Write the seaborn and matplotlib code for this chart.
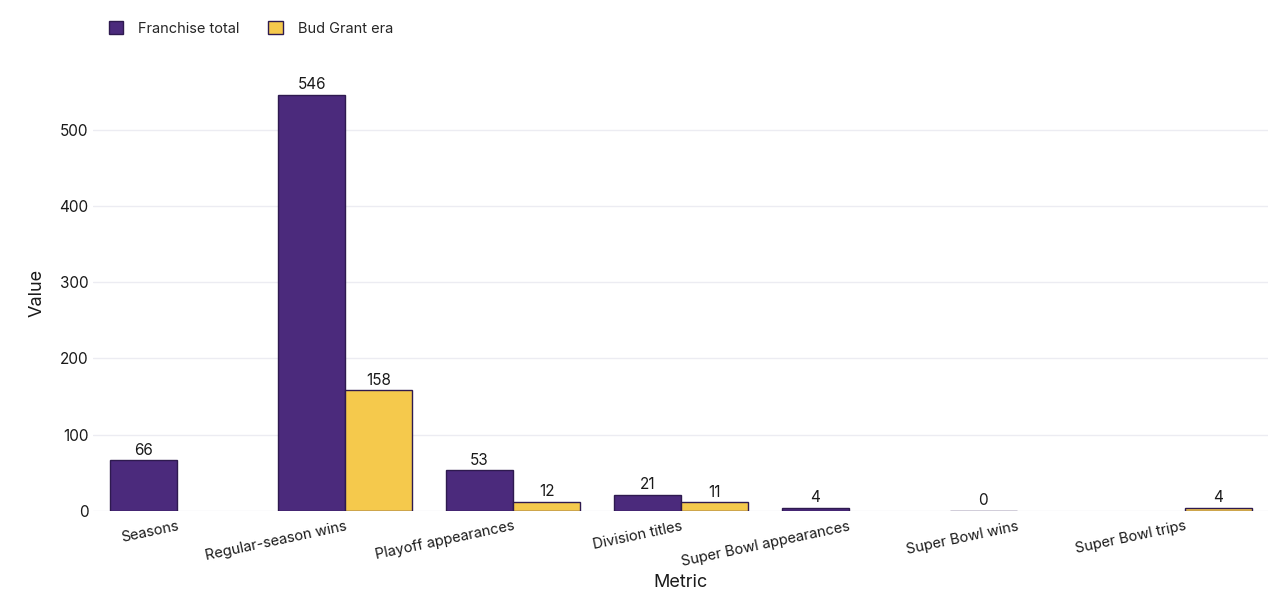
import numpy as np
import matplotlib.pyplot as plt
import pandas as pd
import seaborn as sns

metrics = ['Seasons', 'Regular-season wins', 'Playoff appearances', 'Division titles',
           'Super Bowl appearances', 'Super Bowl wins', 'Super Bowl trips']
franchise_total = [66, 546, 53, 21, 4, 0, np.nan]
bud_grant_era = [np.nan, 158, 12, 11, np.nan, np.nan, 4]
series_names = ['Franchise total', 'Bud Grant era']

df = pd.DataFrame({
    'Metric': metrics * 2,
    'Value': franchise_total + bud_grant_era,
    'Series': [series_names[0]] * len(metrics) + [series_names[1]] * len(metrics),
})

sns.set_theme(style='white')
plt.rcParams['font.family'] = ['Inter', 'DejaVu Sans']

fig, ax = plt.subplots(figsize=(12.8, 6.03), dpi=100)
fig.subplots_adjust(left=0.073, right=0.991, top=0.877, bottom=0.153)

palette = {'Franchise total': '#4b2a7c', 'Bud Grant era': '#f5c94c'}
sns.barplot(data=df, x='Metric', y='Value', hue='Series', order=metrics,
            hue_order=series_names, palette=palette, edgecolor='#2e1a4f',
            linewidth=1, saturation=1, width=0.8, ax=ax)

for c in ax.containers:
    ax.bar_label(c, fmt='%g', padding=2, fontsize=11, color='#1a1a1a')

sns.despine(ax=ax, left=True, bottom=True)
ax.set_axisbelow(True)
ax.yaxis.grid(True, color='#ececf2', linewidth=1)
ax.set_xlim(-0.5, 6.5)
ax.set_ylim(0, 573)
ax.set_yticks([0, 100, 200, 300, 400, 500])
ax.tick_params(axis='y', labelsize=11, colors='#1a1a1a', length=0)
ax.tick_params(axis='x', labelsize=10.5, colors='#1a1a1a', length=0, pad=6)
plt.setp(ax.get_xticklabels(), rotation=12, ha='right', rotation_mode='anchor')
ax.set_xlabel('Metric', fontsize=13, color='#1a1a1a')
ax.set_ylabel('Value', fontsize=13, color='#1a1a1a', labelpad=10)

ax.legend(loc='lower left', bbox_to_anchor=(0.008, 1.075), ncol=2, frameon=False,
          fontsize=10.5, handlelength=1.0, handleheight=1.0, columnspacing=2.0,
          handletextpad=1.0, borderaxespad=0)

plt.savefig('out.png', dpi=100)
